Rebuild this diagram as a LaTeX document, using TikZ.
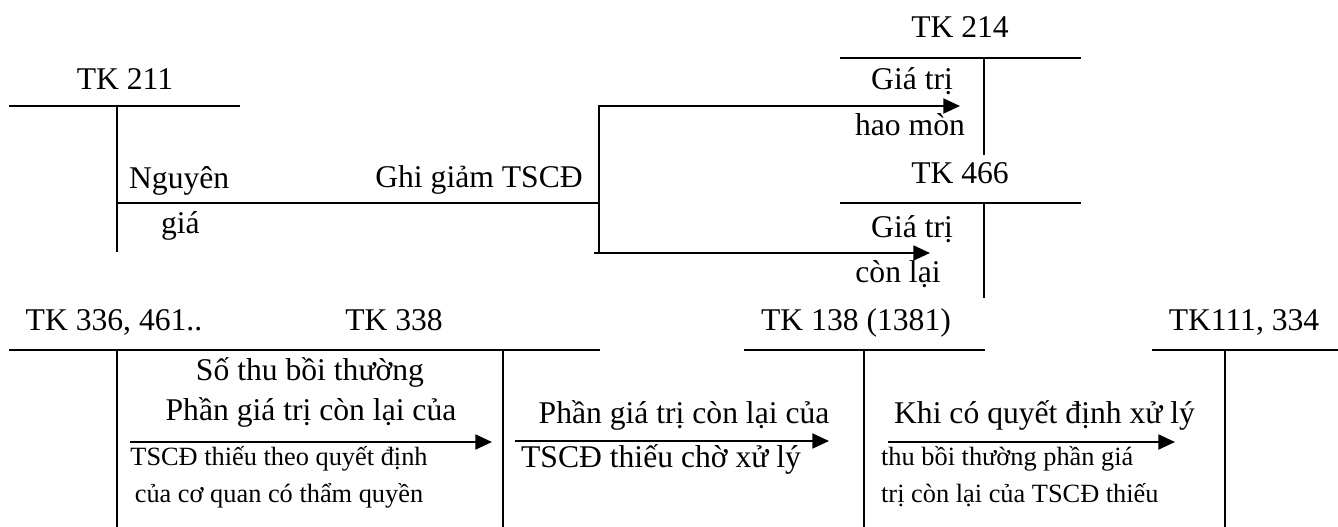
\documentclass[tikz,border=0pt]{standalone}
\usepackage{fontspec}
\setmainfont{Liberation Serif}
\usetikzlibrary{arrows.meta}
\newcommand{\acctfont}{\fontsize{18}{22}\selectfont}
\newcommand{\notefont}{\fontsize{15}{18}\selectfont}

\begin{document}
\begin{tikzpicture}[x=0.02cm, y=-0.02cm, line width=1.3pt,
  >={Triangle[length=9.5pt,width=8.5pt]},
  txt/.style={inner sep=0pt, anchor=base, font=\acctfont},
  note/.style={inner sep=0pt, anchor=base, font=\notefont},
  flow/.style={->, line width=1.3pt}]
\useasboundingbox (0,0) rectangle (1338,527);

% --- TK 211 ---
\node[txt] (t211) at (125,90) {TK 211};
\draw (9,106) -- (240,106);
\draw (117,106) -- (117,252);
\node[txt, anchor=base west] (ng) at (128,188) {Nguyên};
\node[txt, anchor=base west] (ngb) at (160,233) {giá};

% --- ghi giam: one line splitting to 214 and 466 ---
\coordinate (gg-a) at (117,203);
\coordinate (split) at (599,203);
\coordinate (hm-in) at (960,106);
\coordinate (cl-out) at (594,253);
\coordinate (cl-in) at (930,253);
\node[txt] (gg) at (479,187) {Ghi giảm TSCĐ};
\draw (gg-a) -- (split);
\draw[flow] (split) |- (hm-in);
\draw (split) -- (split |- cl-out);
\draw[flow] (cl-out) -- (cl-in);

% --- TK 214 ---
\node[txt] (t214) at (960,38) {TK 214};
\draw (840,58) -- (1081,58);
\draw (984,58) -- (984,155);
\node[txt] (hm1) at (912,90) {Giá trị};
\node[txt] (hm2) at (910,135) {hao mòn};

% --- TK 466 ---
\node[txt] (t466) at (960,183) {TK 466};
\draw (840,203) -- (1081,203);
\draw (984,203) -- (984,298);
\node[txt] (cl1) at (912,237) {Giá trị};
\node[txt] (cl2) at (898,282) {còn lại};

% --- bottom row of accounts ---
\node[txt] (t336) at (114,330) {TK 336, 461..};
\node[txt] (t338) at (394,330) {TK 338};
\node[txt] (t138) at (856,330) {TK 138 (1381)};
\node[txt] (t111) at (1244,330) {TK111, 334};
\draw (9,350) -- (600,350);
\draw (117,350) -- (117,527);
\draw (503,350) -- (503,527);
\draw (744,350) -- (985,350);
\draw (864,350) -- (864,527);
\draw (1152,350) -- (1338,350);
\draw (1225,350) -- (1225,527);

% --- 336 -> 338 ---
\coordinate (bt-a) at (130,442);
\coordinate (bt-b) at (492,442);
\draw[flow] (bt-a) -- (bt-b);
\node[txt] (bt1) at (310,380) {Số thu bồi thường};
\node[txt] (bt2) at (311,420) {Phần giá trị còn lại của};
\node[note] (bt3) at (279,465) {TSCĐ thiếu theo quyết định};
\node[note] (bt4) at (279,502) {của cơ quan có thẩm quyền};

% --- 338 -> 138 ---
\coordinate (cx-a) at (515,441);
\coordinate (cx-b) at (829,441);
\draw[flow] (cx-a) -- (cx-b);
\node[txt] (cx1) at (684,423) {Phần giá trị còn lại của};
\node[txt, anchor=base west] (cx2) at (520,467) {TSCĐ thiếu chờ xử lý};

% --- 138 -> 111 ---
\coordinate (xl-a) at (888,442);
\coordinate (xl-b) at (1175,442);
\draw[flow] (xl-a) -- (xl-b);
\node[txt, anchor=base west] (xl1) at (893,423) {Khi có quyết định xử lý};
\node[note, anchor=base west] (xl2) at (880,465) {thu bồi thường phần giá};
\node[note, anchor=base west] (xl3) at (880,502) {trị còn lại của TSCĐ thiếu};
\end{tikzpicture}
\end{document}
